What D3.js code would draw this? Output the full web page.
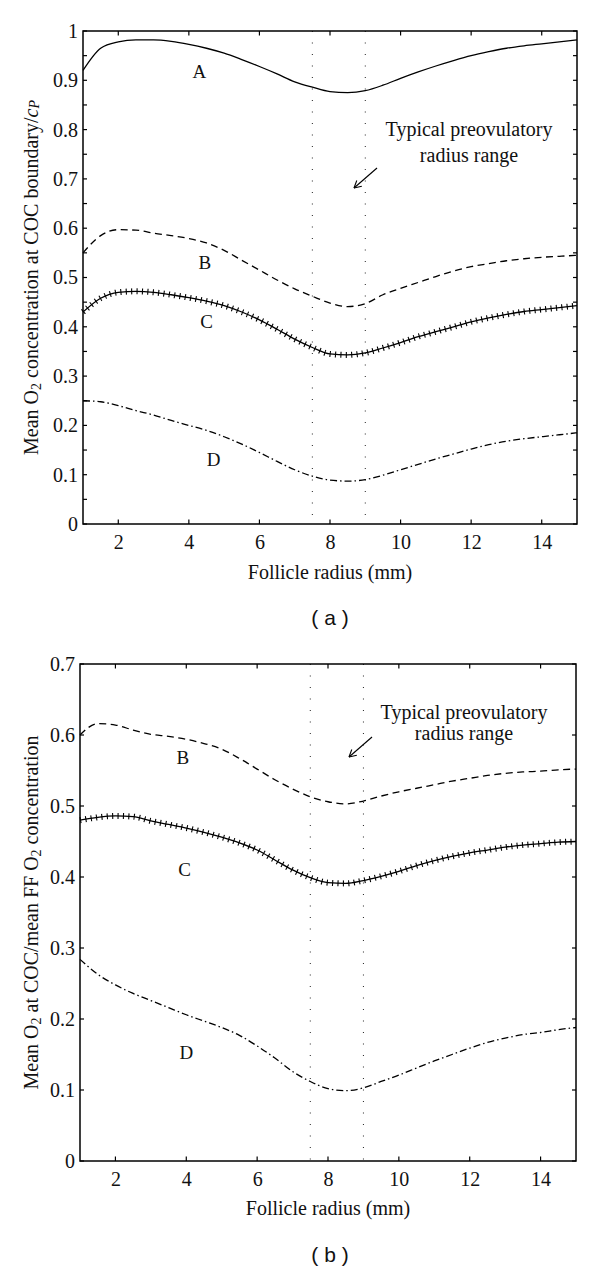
<!DOCTYPE html>
<html><head><meta charset="utf-8">
<script src="https://cdn.jsdelivr.net/npm/d3@7"></script>
<style>body{margin:0;background:#fff}svg{display:block}</style>
</head><body>
<svg id="chart" width="600" height="1269"></svg>
<script>
const radius = [1,1.5,2,2.5,3,3.5,4,4.5,5,5.5,6,6.5,7,7.5,8,8.5,9,9.5,10,10.5,11,11.5,12,12.5,13,13.5,14,14.5,15];
// Panel (a)
const aA = [0.92,0.965,0.978,0.982,0.982,0.979,0.973,0.965,0.955,0.942,0.928,0.913,0.897,0.886,0.877,0.875,0.879,0.89,0.904,0.917,0.929,0.94,0.95,0.958,0.965,0.97,0.974,0.978,0.982];
const aB = [0.55,0.585,0.597,0.596,0.59,0.585,0.579,0.57,0.555,0.535,0.515,0.495,0.477,0.462,0.448,0.441,0.447,0.465,0.478,0.49,0.502,0.513,0.522,0.528,0.534,0.538,0.541,0.543,0.545];
const aC = [0.43,0.458,0.47,0.472,0.47,0.465,0.459,0.452,0.443,0.43,0.414,0.395,0.375,0.358,0.345,0.343,0.347,0.357,0.368,0.38,0.39,0.4,0.41,0.418,0.425,0.431,0.435,0.439,0.443];
const aD = [0.25,0.248,0.24,0.23,0.221,0.21,0.2,0.19,0.177,0.162,0.145,0.127,0.11,0.097,0.089,0.087,0.09,0.099,0.11,0.121,0.132,0.142,0.152,0.161,0.168,0.173,0.177,0.181,0.185];
// Panel (b)
const bB = [0.6,0.616,0.614,0.607,0.601,0.598,0.594,0.588,0.58,0.567,0.552,0.537,0.524,0.513,0.506,0.503,0.507,0.514,0.52,0.525,0.53,0.535,0.539,0.543,0.546,0.548,0.549,0.551,0.552];
const bC = [0.48,0.484,0.486,0.485,0.479,0.474,0.469,0.463,0.456,0.448,0.438,0.424,0.41,0.399,0.392,0.391,0.395,0.401,0.408,0.416,0.423,0.429,0.434,0.438,0.442,0.445,0.447,0.449,0.45];
const bD = [0.284,0.263,0.248,0.236,0.226,0.216,0.206,0.197,0.188,0.177,0.162,0.145,0.126,0.112,0.102,0.099,0.103,0.112,0.121,0.131,0.141,0.15,0.159,0.167,0.173,0.178,0.181,0.185,0.188];

const xTicks = [2,4,6,8,10,12,14];
const aYMajor = [0,0.1,0.2,0.3,0.4,0.5,0.6,0.7,0.8,0.9,1];
const aYMinor = [0.05,0.15,0.25,0.35,0.45,0.55,0.65,0.75,0.85,0.95];
const bYMajor = [0,0.1,0.2,0.3,0.4,0.5,0.6,0.7];
const rangeLines = [7.5, 9];
const annotation = ["Typical preovulatory", "radius range"];

const svg = d3.select("#chart");
const serif = "'Liberation Serif', 'DejaVu Serif', serif";
const FS = 20;

function panel(o) {
  const x = d3.scaleLinear().domain([1,15]).range([o.left, o.right]);
  const y = d3.scaleLinear().domain([0,o.ymax]).range([o.bottom, o.top]);
  const g = svg.append("g");
  rangeLines.forEach(v => {
    g.append("line").attr("x1", x(v)).attr("x2", x(v)).attr("y1", o.top).attr("y2", o.bottom)
      .attr("stroke", "#222").attr("stroke-width", 1).attr("stroke-dasharray", "1 10.5");
  });
  const line = d3.line().x((d,i) => x(radius[i])).y(d => y(d)).curve(d3.curveMonotoneX);
  o.series.forEach(s => {
    g.append("path").attr("d", line(s.values)).attr("fill", "none").attr("stroke", "#000")
      .attr("stroke-width", 1.3).attr("stroke-dasharray", s.dash || null);
    if (s.plus) {
      g.append("path").attr("d", line(s.values)).attr("fill", "none").attr("stroke", "#000")
        .attr("stroke-width", 6).attr("stroke-dasharray", "1.1 4.3");
    }
  });
  const ax = d3.axisBottom(x).tickValues(xTicks).tickSize(0).tickPadding(11).tickFormat(d3.format("d"));
  const gx = g.append("g").attr("transform", `translate(0,${o.bottom})`).call(ax);
  gx.select(".domain").remove();
  gx.selectAll("text").attr("font-family", serif).attr("font-size", FS).attr("fill", "#111");
  const ay = d3.axisLeft(y).tickValues(o.yMajor).tickSize(0).tickPadding(5).tickFormat(d => d === 0 ? "0" : d === 1 ? "1" : d3.format(".1f")(d));
  const gy = g.append("g").attr("transform", `translate(${o.left},0)`).call(ay);
  gy.select(".domain").remove();
  gy.selectAll("text").attr("font-family", serif).attr("font-size", FS).attr("fill", "#111");
  const tk = g.append("g").attr("stroke", "#000").attr("stroke-width", 1.2);
  xTicks.forEach(v => {
    tk.append("line").attr("x1", x(v)).attr("x2", x(v)).attr("y1", o.bottom).attr("y2", o.bottom - 4.5);
    tk.append("line").attr("x1", x(v)).attr("x2", x(v)).attr("y1", o.top).attr("y2", o.top + 4.5);
  });
  o.yMajor.concat(o.yMinor || []).forEach(v => {
    tk.append("line").attr("x1", o.left).attr("x2", o.left + 4).attr("y1", y(v)).attr("y2", y(v));
    tk.append("line").attr("x1", o.right).attr("x2", o.right - 4).attr("y1", y(v)).attr("y2", y(v));
  });
  g.append("rect").attr("x", o.left).attr("y", o.top).attr("width", o.right - o.left).attr("height", o.bottom - o.top)
    .attr("fill", "none").attr("stroke", "#000").attr("stroke-width", 1.5);
  o.labels.forEach(l => {
    g.append("text").attr("x", x(l.x)).attr("y", y(l.y)).attr("text-anchor", "middle").attr("dominant-baseline", "central")
      .attr("font-family", serif).attr("font-size", 19).attr("fill", "#111").text(l.t);
  });
  annotation.forEach((t,i) => {
    g.append("text").attr("x", o.ann[0]).attr("y", o.ann[1] + i*o.annGap).attr("text-anchor", "middle")
      .attr("dominant-baseline", "central")
      .attr("font-family", serif).attr("font-size", FS).attr("fill", "#111").text(t);
  });
  const ar = o.arrow;
  g.append("line").attr("x1", ar[0]).attr("y1", ar[1]).attr("x2", ar[2]).attr("y2", ar[3]).attr("stroke", "#000").attr("stroke-width", 1.1);
  const ang = Math.atan2(ar[3]-ar[1], ar[2]-ar[0]);
  const hl = 8;
  [0.5, -0.5].forEach(da => {
    g.append("line").attr("x1", ar[2]).attr("y1", ar[3])
      .attr("x2", ar[2] - hl*Math.cos(ang+da)).attr("y2", ar[3] - hl*Math.sin(ang+da))
      .attr("stroke", "#000").attr("stroke-width", 1.1);
  });
  g.append("text").attr("x", (o.left + o.right)/2).attr("y", o.xlabY).attr("text-anchor", "middle").attr("dominant-baseline", "central")
    .attr("font-family", serif).attr("font-size", FS).attr("fill", "#111").text("Follicle radius (mm)");
  const yl = g.append("text").attr("transform", `translate(31,${(o.top+o.bottom)/2}) rotate(-90)`).attr("text-anchor", "middle")
    .attr("dominant-baseline", "central").attr("font-family", serif).attr("font-size", FS).attr("fill", "#111");
  o.ylabel(yl);
  g.append("text").attr("x", 330).attr("y", o.tagY).attr("text-anchor", "middle").attr("dominant-baseline", "central")
    .attr("font-family", "'Liberation Sans', Arial, sans-serif").attr("font-size", 21).attr("fill", "#111").text(o.tag);
}

function sub(t, s) {
  t.append("tspan").attr("font-size", 14).attr("dy", 5).text(s);
}

panel({
  left: 83, right: 577, top: 31, bottom: 524, ymax: 1,
  yMajor: aYMajor, yMinor: aYMinor,
  series: [{values: aA}, {values: aB, dash: "7 4.5"}, {values: aC, plus: true}, {values: aD, dash: "7 3 1.5 3"}],
  labels: [{t:"A", x:4.3, y:0.918}, {t:"B", x:4.45, y:0.53}, {t:"C", x:4.5, y:0.41}, {t:"D", x:4.7, y:0.13}],
  ann: [469, 129], annGap: 26, arrow: [377, 168, 354, 188],
  xlabY: 572,
  ylabel: t => {
    t.append("tspan").text("Mean O");
    sub(t, "2");
    t.append("tspan").attr("dy", -5).text(" concentration at COC boundary/");
    t.append("tspan").attr("font-style", "italic").text("c");
    t.append("tspan").attr("font-style", "italic").attr("font-size", 14).attr("dy", 3).text("P");
  },
  tag: "( a )", tagY: 617
});

panel({
  left: 80, right: 576, top: 664, bottom: 1161, ymax: 0.7,
  yMajor: bYMajor, yMinor: [],
  series: [{values: bB, dash: "7 4.5"}, {values: bC, plus: true}, {values: bD, dash: "7 3 1.5 3"}],
  labels: [{t:"B", x:3.9, y:0.568}, {t:"C", x:3.95, y:0.41}, {t:"D", x:4.0, y:0.153}],
  ann: [464, 712], annGap: 21, arrow: [372, 737, 349, 757],
  xlabY: 1208,
  ylabel: t => {
    t.append("tspan").text("Mean O");
    sub(t, "2");
    t.append("tspan").attr("dy", -5).text(" at COC/mean FF O");
    sub(t, "2");
    t.append("tspan").attr("dy", -5).text(" concentration");
  },
  tag: "( b )", tagY: 1254
});
</script>
</body></html>
